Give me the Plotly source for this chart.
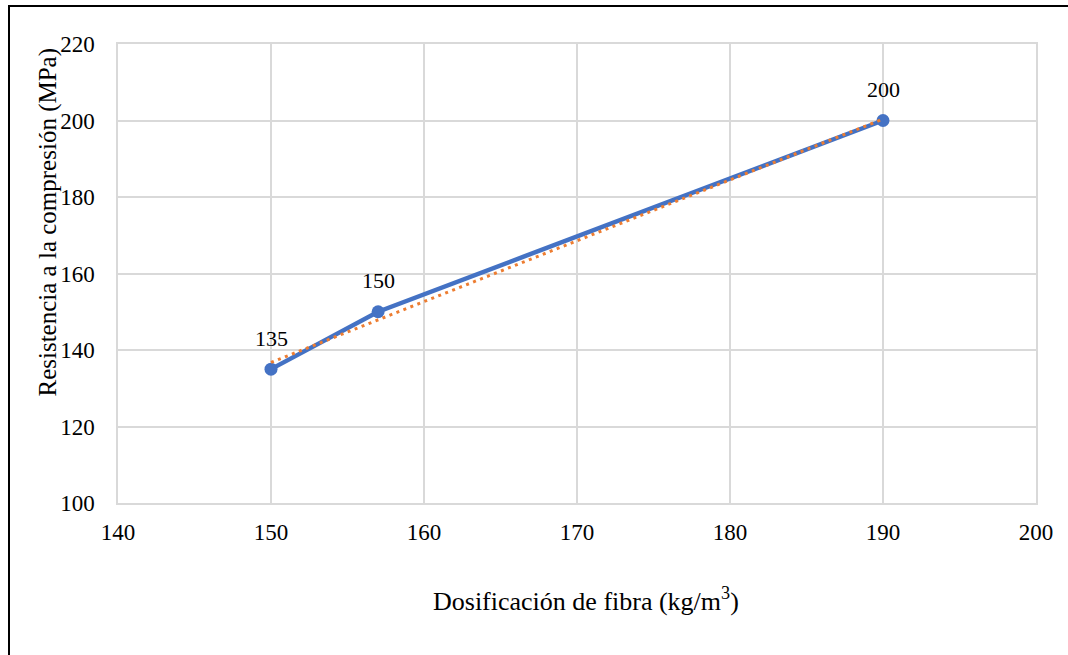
import numpy as np
import plotly.graph_objects as go

# Fibre dosage (kg/m3) vs compressive strength (MPa)
dosificacion = [150, 157, 190]
resistencia = [135, 150, 200]
etiquetas = ["135", "150", "200"]

x_ticks = [140, 150, 160, 170, 180, 190, 200]
y_ticks = [100, 120, 140, 160, 180, 200, 220]

# Linear trend line (least squares)
pendiente, ordenada = np.polyfit(dosificacion, resistencia, 1)
x_tend = [min(dosificacion), max(dosificacion)]
y_tend = [pendiente * v + ordenada for v in x_tend]

FONT = "Liberation Serif"
GRID = "#d9d9d9"
NEGRO = "#000000"

# Plot-area geometry in pixels
L, R, T, B = 118, 32, 44, 152
W, H = 1068, 655
PW, PH = W - L - R, H - T - B


def px_x(p):
    return (p - L) / PW


def px_y(p):
    return (H - B - p) / PH


fig = go.Figure()

fig.add_trace(go.Scatter(
    x=dosificacion, y=resistencia,
    mode="lines+markers",
    line=dict(color="#4472C4", width=4.5),
    marker=dict(color="#4472C4", size=13),
    showlegend=False,
    cliponaxis=False,
))

fig.add_trace(go.Scatter(
    x=x_tend, y=y_tend,
    mode="lines",
    line=dict(color="#ED7D31", width=3, dash="3px,4.5px"),
    showlegend=False,
))

anotaciones = [dict(
    x=xv, y=yv, text=t, xref="x", yref="y",
    showarrow=False, yshift=31, yanchor="middle", xanchor="center",
    font=dict(family=FONT, size=22, color=NEGRO),
) for xv, yv, t in zip(dosificacion, resistencia, etiquetas)]

anotaciones.append(dict(
    text="Resistencia a la compresión (MPa)",
    xref="paper", yref="paper",
    x=px_x(47.5), y=px_y(222),
    xanchor="center", yanchor="middle",
    textangle=-90, showarrow=False,
    font=dict(family=FONT, size=25, color=NEGRO),
))

anotaciones.append(dict(
    text="Dosificación de fibra (kg/m<sup>3</sup>)",
    xref="paper", yref="paper",
    x=px_x(586), y=px_y(599),
    xanchor="center", yanchor="middle",
    showarrow=False,
    font=dict(family=FONT, size=26, color=NEGRO),
))

fig.update_layout(
    width=W, height=H,
    margin=dict(l=L, r=R, t=T, b=B),
    paper_bgcolor="white", plot_bgcolor="white",
    font=dict(family=FONT, size=23, color=NEGRO),
    xaxis=dict(
        range=[140, 200], tickvals=x_ticks, ticktext=[str(v) for v in x_ticks],
        tickfont=dict(family=FONT, size=23, color=NEGRO),
        showgrid=True, gridcolor=GRID, gridwidth=1.5,
        showline=True, linecolor=GRID, linewidth=1.5, mirror=True,
        zeroline=False, ticks="", ticklabelstandoff=8,
    ),
    yaxis=dict(
        range=[100, 220], tickvals=y_ticks, ticktext=[str(v) for v in y_ticks],
        tickfont=dict(family=FONT, size=23, color=NEGRO),
        showgrid=True, gridcolor=GRID, gridwidth=1.5,
        showline=True, linecolor=GRID, linewidth=1.5, mirror=True,
        zeroline=False, ticks="", ticklabelstandoff=17,
    ),
    annotations=anotaciones,
    shapes=[dict(
        type="rect", xref="paper", yref="paper",
        x0=px_x(9), x1=1.2,
        y0=-0.5, y1=px_y(6),
        line=dict(color=NEGRO, width=2),
        fillcolor="rgba(0,0,0,0)", layer="below",
    )],
)

fig.write_html("out.html")
